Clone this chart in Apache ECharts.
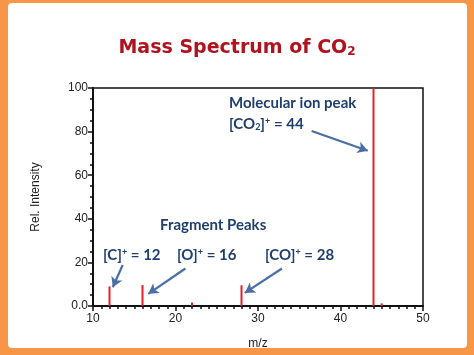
<!DOCTYPE html>
<html>
<head>
<meta charset="utf-8">
<script src="https://cdn.jsdelivr.net/npm/echarts@6/dist/echarts.min.js"></script>
<style>
html,body{margin:0;padding:0;background:#f79646;}
#c{width:474px;height:355px;}
</style>
</head>
<body>
<div id="c"></div>
<script>
// Data
const mz = [12, 16, 22, 28, 44, 45];
const intensity = [9, 9.6, 1.6, 9.5, 100, 1.2];
const xTicks = [10, 20, 30, 40, 50];
const yTicks = [0, 20, 40, 60, 80, 100];
// annotation arrows in data coordinates: [x1, y1, x2, y2]
const arrows = [
  [36.5, 80.3, 43.3, 71.2],
  [13.6, 18.8, 12.4, 8.6],
  [21.2, 17.2, 16.7, 5.6],
  [32.9, 17.2, 28.4, 6.0]
];

const chart = echarts.init(document.getElementById('c'));
const blue = '#1f3f6e';
const red = '#b0121e';
const fontT = 'Lato, "Open Sans", sans-serif';
const richSS = {
  n: {fontFamily: fontT, fontWeight: 'bold', fontSize: 15, fill: blue, lineHeight: 18, verticalAlign: 'bottom'},
  sup: {fontFamily: fontT, fontWeight: 'bold', fontSize: 9, fill: blue, lineHeight: 18, verticalAlign: 'top', padding: [3, 0, 0, 0]},
  sub: {fontFamily: fontT, fontWeight: 'bold', fontSize: 9, fill: blue, lineHeight: 12, verticalAlign: 'bottom'}
};
function txt(left, top, text) {
  return {type: 'text', left: left, top: top, z: 10, silent: true,
    style: {text: text, rich: richSS, fill: blue, font: 'bold 15px ' + fontT}};
}

chart.setOption({
  animation: false,
  backgroundColor: '#f79646',
  grid: {left: 93, top: 88, right: 51, bottom: 49, show: true, borderColor: '#111', borderWidth: 1.5, backgroundColor: 'transparent'},
  xAxis: {
    type: 'value', min: xTicks[0], max: xTicks[xTicks.length - 1], interval: 10,
    name: 'm/z', nameLocation: 'middle', nameGap: 32,
    nameTextStyle: {fontFamily: 'Liberation Sans', fontSize: 12, color: '#222'},
    axisLine: {show: true, lineStyle: {color: '#111', width: 2}},
    axisTick: {show: true, length: 5, lineStyle: {color: '#111', width: 1.5}},
    minorTick: {show: true, splitNumber: 10, length: 3, lineStyle: {color: '#111', width: 1.5}},
    axisLabel: {fontFamily: 'Liberation Sans', fontSize: 12, color: '#222', margin: 7},
    splitLine: {show: false}
  },
  yAxis: {
    type: 'value', min: yTicks[0], max: yTicks[yTicks.length - 1], interval: 20,
    name: 'Rel. Intensity', nameLocation: 'middle', nameGap: 51,
    nameTextStyle: {fontFamily: 'Liberation Sans', fontSize: 12, color: '#222'},
    axisLine: {show: true, lineStyle: {color: '#111', width: 2}},
    axisTick: {show: true, length: 5, lineStyle: {color: '#111', width: 1.5}},
    minorTick: {show: true, splitNumber: 4, length: 3, lineStyle: {color: '#111', width: 1.5}},
    axisLabel: {fontFamily: 'Liberation Sans', fontSize: 12, color: '#222', margin: 5,
      formatter: v => v === 0 ? '0.0' : String(v)},
    splitLine: {show: false}
  },
  graphic: [
    {type: 'rect', left: 8, top: 3, z: -5, silent: true, shape: {width: 459, height: 345, r: 4}, style: {fill: '#ffffff'}},
    {type: 'text', left: 'center', top: 39, z: 10, silent: true,
      style: {text: '{t|Mass Spectrum of CO}{s|2}', fill: red, rich: {
        t: {fontFamily: '"DejaVu Sans"', fontWeight: 'bold', fontSize: 19, fill: red, lineHeight: 24, verticalAlign: 'bottom'},
        s: {fontFamily: '"DejaVu Sans"', fontWeight: 'bold', fontSize: 12, fill: red, lineHeight: 18, verticalAlign: 'bottom'}
      }}},
    txt(229, 96, '{n|Molecular ion peak}'),
    txt(229, 114, '{n|[CO}{sub|2}{n|]}{sup|+}{n| = 44}'),
    txt(160, 218, '{n|Fragment Peaks}'),
    txt(103, 245, '{n|[C]}{sup|+}{n| = 12}'),
    txt(177, 245, '{n|[O]}{sup|+}{n| = 16}'),
    txt(265, 245, '{n|[CO]}{sup|+}{n| = 28}')
  ],
  series: [{
    type: 'bar',
    data: mz.map((m, i) => [m, intensity[i]]),
    barWidth: 2,
    itemStyle: {color: '#e3202b'},
    silent: true,
    markLine: {
      silent: true,
      symbol: ['none', 'arrow'],
      symbolSize: [9, 10],
      label: {show: false},
      lineStyle: {color: '#4a6fa5', width: 2.2, type: 'solid'},
      data: arrows.map(a => [{coord: [a[0], a[1]]}, {coord: [a[2], a[3]]}])
    }
  }]
});
</script>
</body>
</html>
